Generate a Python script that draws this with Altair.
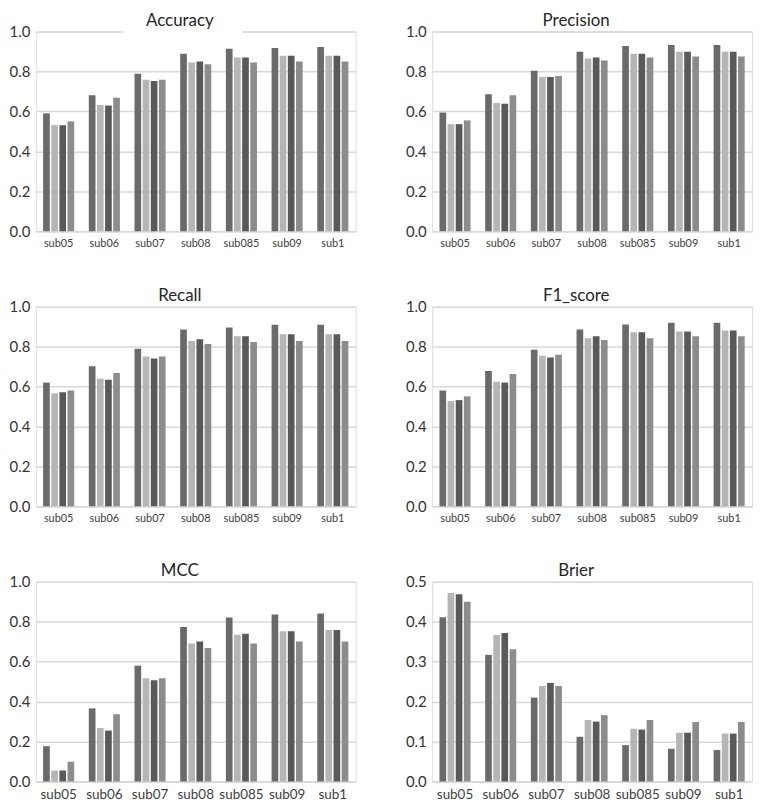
import altair as alt
import pandas as pd

categories = ["sub05", "sub06", "sub07", "sub08", "sub085", "sub09", "sub1"]
series = ["s1", "s2", "s3", "s4"]
colors = ["#6a6a6a", "#b5b5b5", "#595959", "#8c8c8c"]

accuracy = [
    [0.590, 0.681, 0.788, 0.889, 0.914, 0.917, 0.923],
    [0.531, 0.632, 0.759, 0.845, 0.870, 0.879, 0.879],
    [0.531, 0.629, 0.752, 0.850, 0.870, 0.879, 0.879],
    [0.550, 0.668, 0.759, 0.836, 0.845, 0.850, 0.850],
]
precision = [
    [0.594, 0.686, 0.803, 0.899, 0.927, 0.932, 0.932],
    [0.536, 0.642, 0.772, 0.865, 0.889, 0.899, 0.899],
    [0.536, 0.638, 0.772, 0.870, 0.889, 0.899, 0.899],
    [0.555, 0.681, 0.777, 0.855, 0.870, 0.875, 0.875],
]
recall = [
    [0.620, 0.701, 0.789, 0.886, 0.896, 0.909, 0.909],
    [0.566, 0.639, 0.750, 0.828, 0.852, 0.862, 0.862],
    [0.571, 0.634, 0.740, 0.837, 0.852, 0.862, 0.862],
    [0.580, 0.668, 0.750, 0.813, 0.823, 0.828, 0.828],
]
f1_score = [
    [0.580, 0.678, 0.784, 0.886, 0.911, 0.919, 0.919],
    [0.527, 0.624, 0.754, 0.842, 0.872, 0.875, 0.881],
    [0.532, 0.620, 0.745, 0.852, 0.872, 0.875, 0.881],
    [0.551, 0.663, 0.759, 0.833, 0.842, 0.852, 0.852],
]
mcc = [
    [0.177, 0.366, 0.580, 0.774, 0.821, 0.836, 0.841],
    [0.055, 0.268, 0.517, 0.691, 0.735, 0.753, 0.759],
    [0.055, 0.255, 0.507, 0.701, 0.740, 0.753, 0.759],
    [0.099, 0.337, 0.517, 0.668, 0.691, 0.701, 0.701],
]
brier = [
    [0.411, 0.317, 0.210, 0.112, 0.091, 0.082, 0.079],
    [0.472, 0.367, 0.239, 0.154, 0.132, 0.122, 0.120],
    [0.469, 0.372, 0.247, 0.150, 0.130, 0.122, 0.120],
    [0.450, 0.331, 0.239, 0.166, 0.154, 0.149, 0.149],
]

FONT = "Lato"
W = 322
H = 201
GRID = "#d9d9d9"


def build_df(vals):
    rows = []
    for s, vs in zip(series, vals):
        for c, v in zip(categories, vs):
            rows.append({"cat": c, "series": s, "value": v})
    return pd.DataFrame(rows)


def panel(title, vals, ymax, step, xfont, mask=False):
    df = build_df(vals)
    n = int(round(ymax / step))
    ticks = [round(i * step, 3) for i in range(n + 1)]
    bars = alt.Chart(df).mark_bar().encode(
        x=alt.X(
            "cat:N", sort=categories, title=None,
            scale=alt.Scale(paddingInner=0.32, paddingOuter=0.16),
            axis=alt.Axis(labelAngle=0, labelFontSize=xfont, ticks=False,
                          domain=True, domainColor=GRID, domainWidth=1.5,
                          labelPadding=6, labelColor="#404040", grid=False,
                          labelFont=FONT),
        ),
        xOffset=alt.XOffset("series:N", sort=series,
                            scale=alt.Scale(paddingInner=0.18)),
        y=alt.Y(
            "value:Q", title=None,
            scale=alt.Scale(domain=[0, ymax], nice=False),
            axis=alt.Axis(values=ticks, format=".1f", grid=True,
                          gridColor=GRID, gridWidth=1.5, domain=False,
                          ticks=False, labelFontSize=15, labelPadding=6,
                          labelColor="#333333", labelFont=FONT),
        ),
        color=alt.Color("series:N", scale=alt.Scale(domain=series, range=colors),
                        legend=None),
    )
    chart = bars
    if mask:
        cover = alt.Chart(pd.DataFrame({"k": [0]})).mark_rect(color="white").encode(
            x=alt.value(88), x2=alt.value(208), y=alt.value(-2), y2=alt.value(2)
        )
        chart = alt.layer(bars, cover)
    return chart.properties(
        width=W, height=H,
        title=alt.Title(title, fontSize=17, fontWeight="normal", offset=-5,
                        dx=-16, frame="group", color="#262626", font=FONT),
    )


row1 = alt.hconcat(
    panel("Accuracy", accuracy, 1.0, 0.2, 11, mask=True),
    panel("Precision", precision, 1.0, 0.2, 11),
    spacing=48,
)
row2 = alt.hconcat(
    panel("Recall", recall, 1.0, 0.2, 11),
    panel("F1_score", f1_score, 1.0, 0.2, 11),
    spacing=48,
)
row3 = alt.hconcat(
    panel("MCC", mcc, 1.0, 0.2, 13.5),
    panel("Brier", brier, 0.5, 0.1, 13.5),
    spacing=48,
)

chart = (
    alt.vconcat(row1, row2, row3, spacing=37)
    .properties(padding=0)
    .configure_view(stroke=None)
    .configure(font=FONT)
)

chart.save("out.html", embed_options={"renderer": "svg", "actions": False})
